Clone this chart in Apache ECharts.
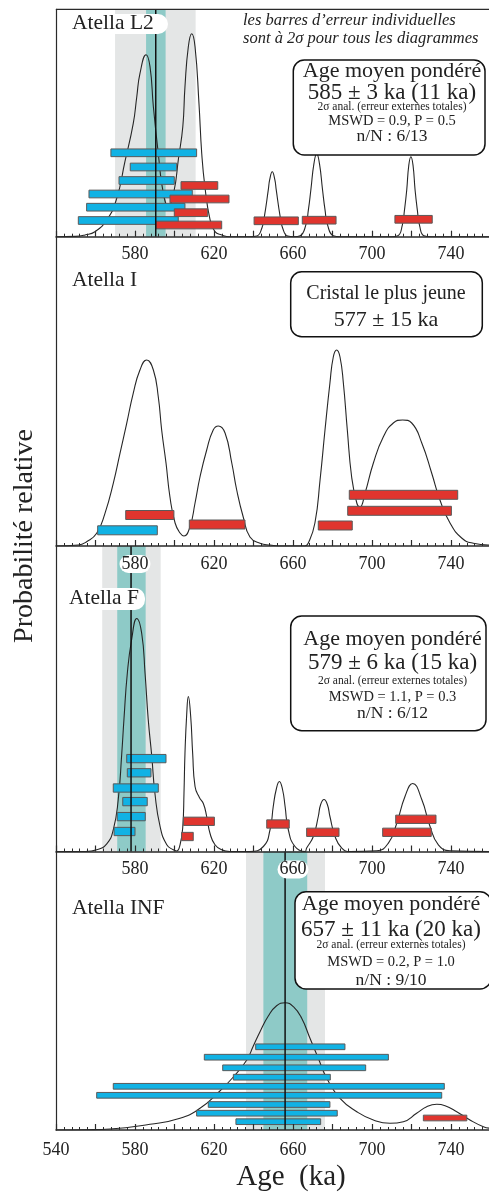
<!DOCTYPE html>
<html><head><meta charset="utf-8">
<script src="https://cdn.jsdelivr.net/npm/echarts@6/dist/echarts.min.js"></script>
<style>html,body{margin:0;padding:0;background:#fff}#c{width:489px;height:1193px}</style>
</head><body><div id="c"></div>
<script>
// ---------------- DATA ----------------
const axisMin = 540, axisMax = 760, tickStep = 20;
const tickLabelsUpper = [580, 620, 660, 700, 740];
const tickLabelsBottom = [540, 580, 620, 660, 700, 740];
const panelNames = ['Atella L2', 'Atella I', 'Atella F', 'Atella INF'];

// probability density curves [age ka, relative probability]
const curveL2 = [[540,0],[550,0.3],[554.7,1.7],[559.7,5],[565.7,16.7],[570.7,38],[574.9,75],[579.1,113],[580.9,140],[582.5,163],[585.6,182],[587.6,170],[589.3,130],[591.8,83],[594.2,45],[596.9,30],[599.7,45],[602,78],[604.2,110],[605.3,150],[607,190],[608.7,203],[610.4,190],[612.4,133],[613.8,83],[615.4,50],[618,17],[620.5,5],[623.9,1.7],[628,0],[638,0],[641.7,0.7],[644.3,9],[645.5,20],[647.5,47],[648.2,57],[649.5,65],[650.8,57],[651.5,47],[653.5,20],[654.7,9],[657.3,0.7],[660.5,0],[663.6,1],[666.4,11],[667.8,27],[669.05,47],[670.6,73],[672,83],[673.4,73],[674.95,47],[676.2,27],[677.6,11],[680.4,1],[684,0],[710,0],[713.1,0.9],[715.3,11],[716.4,26],[717.6,47],[718.6,71],[719.7,80],[720.8,71],[721.8,47],[723,26],[724.1,11],[726.3,0.9],[730,0],[760,0]];
const curveI = [[540,0],[551.3,1],[555.5,4.3],[560.6,12.7],[564.8,32.7],[569,62.7],[572.4,92.7],[575.8,122.7],[579.1,152.7],[582.5,176],[585.9,186],[589.3,176],[591.8,149],[593.5,116],[595.7,83],[597.7,49],[600.3,23],[602.8,13],[604.8,10],[607.8,19],[610.4,43],[612.9,69],[616.3,96],[619.6,116],[622.2,120],[625.6,113],[629,83],[631.5,56],[634.8,29],[638.2,9],[643.3,2.7],[648.4,1],[655,0],[666,0],[667.7,2.7],[671.1,23],[673.7,66],[676.2,116],[678.7,163],[680.4,189],[682.1,196],[683.8,189],[685.5,163],[687.5,116],[689.7,69],[692.3,43],[693.9,39],[696.5,53],[700.7,83],[705.7,109],[710.8,123],[715.5,126],[720.1,123],[725.2,103],[730.2,73],[734.4,46],[739.5,23],[745.4,8],[751.3,2.7],[758.9,1],[760,1]];
const curveF = [[540,0],[555,0],[560.6,1.7],[565.7,7.7],[569,21.7],[571.5,51.7],[573.3,98],[574.4,132],[576.1,178],[578.3,212],[580.9,233],[583.4,218],[585.1,178],[586.7,132],[588.5,95],[590.1,58],[592.7,25],[596.1,6.7],[599.4,1.7],[601.1,0.5],[602.8,6.7],[604.2,25],[604.8,58],[605.3,98],[606.2,138],[607,155],[608.2,135],[609.2,98],[610.4,65],[612.6,54],[614.6,48],[616.3,35],[618,18],[620.5,6.7],[623.9,1.7],[628,0],[638,0],[645,5],[648.4,22],[650,45],[651.5,62],[653.1,70],[654.7,62],[656,45],[657.6,22],[661,5],[666.1,0],[666.9,3.4],[670.3,15],[672.8,35],[674,47],[675.7,52],[677.4,47],[678.7,35],[681.3,15],[684.7,3.4],[688.9,0],[702.4,0.7],[708.3,8.4],[712.5,28],[716.7,55],[720.6,68],[725.2,52],[729.4,25],[733.6,6.7],[739.5,0.7],[760,0]];
const curveINF = [[540,0],[555,0.3],[567.3,1],[587.6,5.7],[602.8,11.7],[612.9,21.7],[621.4,36],[629.8,53],[636.6,70],[639.9,84],[643.3,98.3],[647.5,114],[651.7,124.3],[656,127.3],[660.2,123.3],[664.4,111.7],[668.6,91.7],[672.8,71.7],[677.1,51.7],[683.8,31.7],[692.3,18.3],[700.7,10],[709.1,6.7],[715.9,8.3],[722.6,16.7],[727.7,23.3],[732.8,25.7],[737,24.3],[742.9,18.3],[749.6,10],[756.4,3.3],[760,1.7]];

// individual 2-sigma error bars [low ka, high ka, stacking level, 0=selected(blue) 1=rejected(red)]
const barsL2 = [[567.8,611.2,83.9,0],[577.6,601.1,69.7,0],[571.9,599.9,56.2,0],[556.7,609,42.7,0],[555.5,605.3,29.5,0],[551.3,601.9,16.2,0],
  [603.3,621.9,51.2,1],[597.7,627.6,37.7,1],[599.9,616.8,24,1],[590.6,623.9,11.7,1],[640.3,662.7,15.9,1],[664.7,681.8,16.5,1],[711.6,730.5,17.4,1]];
const barsI = [[561.1,591.3,15.7,0],[575.3,599.7,31,1],[607.5,635.7,21.5,1],[672.8,690,20.5,1],[688.5,743.4,51.2,1],[687.7,740.2,35.2,1]];
const barsF = [[575.8,595.7,92.9,0],[576.1,588.1,78.7,0],[569,591.8,63.5,0],[573.8,586.2,49.9,0],[571,585.2,34.9,0],[569.4,580,20,0],
  [604.5,620.2,30.2,1],[603.6,609.5,15,1],[646.7,658.1,27.5,1],[666.9,683.3,19.2,1],[712,732.4,32.2,1],[705.4,730,19.2,1]];
const barsINF = [[641.1,686.3,83.2,0],[615.1,708.3,72.8,0],[624.4,696.8,62.2,0],[629.8,678.9,52.8,0],[569,736.6,43.7,0],[560.6,735.3,34.7,0],[617.1,678.7,25.5,0],[611.2,682.4,16.8,0],[631.1,674,8.3,0],[726,748,12,1]];

// weighted mean bands [external low, external high, analytical low, analytical high, mean]  (null = none)
const bandsL2 = [569.9, 610.7, 585.6, 595.5, 590.5];
const bandsI = null;
const bandsF = [563.4, 593, 571, 585.4, 578];
const bandsINF = [636.2, 676.2, 645, 667.2, 656];

const noteText = ["les barres d\u2019erreur individuelles", "sont à 2σ pour tous les diagrammes"];
const boxTexts = [
  ['Age moyen pondéré', '585 ± 3 ka (11 ka)', '2σ anal. (erreur externes totales)', 'MSWD = 0.9, P = 0.5', 'n/N : 6/13'],
  ['Cristal le plus jeune', '577 ± 15 ka'],
  ['Age moyen pondéré', '579 ± 6 ka (15 ka)', '2σ anal. (erreur externes totales)', 'MSWD = 1.1, P = 0.3', 'n/N : 6/12'],
  ['Age moyen pondéré', '657 ± 11 ka (20 ka)', '2σ anal. (erreur externes totales)', 'MSWD = 0.2, P = 1.0', 'n/N : 9/10']
];
const yTitle = 'Probabilité relative';
const xTitle = 'Age  (ka)';

// ---------------- LAYOUT / STYLE ----------------
const SERIF = '"Liberation Serif","Times New Roman",serif';
const COL_BLUE = '#11b2e4', COL_RED = '#e0352e', COL_GREY = '#e4e6e6', COL_TEAL = '#8ecac7';
const LEFT = 56, PW = 434.5;
const panels = [
  {top: 9.3, h: 227.4, curve: curveL2, bars: barsL2, bands: bandsL2, barH: 7.7, labels: tickLabelsUpper, margin: 9},
  {top: 236.7, h: 309.3, curve: curveI, bars: barsI, bands: bandsI, barH: 9, labels: tickLabelsUpper, margin: 9},
  {top: 546, h: 305.5, curve: curveF, bars: barsF, bands: bandsF, barH: 8.3, labels: tickLabelsUpper, margin: 9},
  {top: 851.5, h: 278.5, curve: curveINF, bars: barsINF, bands: bandsINF, barH: 5.7, labels: tickLabelsBottom, margin: 11}
];

const grids = [], xAxes = [], yAxes = [], series = [];
panels.forEach((p, i) => {
  grids.push({left: LEFT, width: PW, top: p.top, height: p.h, outerBoundsMode: 'none', containLabel: false});
  xAxes.push({
    type: 'value', gridIndex: i, min: axisMin, max: axisMax, interval: tickStep, z: 6,
    axisLine: {show: true, lineStyle: {color: '#2a2a2a', width: 1.5}},
    axisTick: {show: true, inside: true, length: 6, lineStyle: {color: '#2a2a2a', width: 1.2}},
    minorTick: {show: true, splitNumber: 5, length: 3, lineStyle: {color: '#2a2a2a', width: 1}},
    splitLine: {show: false}, minorSplitLine: {show: false},
    axisLabel: {
      show: true, margin: p.margin, fontFamily: SERIF, fontSize: 18, color: '#222',
      backgroundColor: '#fff', borderRadius: 9, padding: [0, 2, 0, 2],
      showMinLabel: true, showMaxLabel: false, hideOverlap: false,
      formatter: (v) => p.labels.indexOf(v) >= 0 ? String(v) : ''
    }
  });
  yAxes.push({
    type: 'value', gridIndex: i, min: 0, max: p.h,
    axisLine: {show: true, lineStyle: {color: '#2a2a2a', width: 1.2}},
    axisTick: {show: false}, axisLabel: {show: false}, splitLine: {show: false}
  });
  if (p.bands) {
    const b = p.bands;
    series.push({
      type: 'custom', xAxisIndex: i, yAxisIndex: i, z: 1, silent: true,
      data: [[b[0], b[1], 0], [b[2], b[3], 1]],
      encode: {x: [0, 1]},
      renderItem: (params, api) => {
        const a = api.coord([api.value(0), p.h]);
        const c = api.coord([api.value(1), 0]);
        return {type: 'rect', shape: {x: a[0], y: a[1], width: c[0] - a[0], height: c[1] - a[1]},
          style: {fill: api.value(2) ? COL_TEAL : COL_GREY}};
      }
    });
    series.push({
      type: 'custom', xAxisIndex: i, yAxisIndex: i, z: 5, silent: true,
      data: [[b[4]]], encode: {x: 0},
      renderItem: (params, api) => {
        const a = api.coord([api.value(0), p.h]);
        const c = api.coord([api.value(0), 0]);
        return {type: 'line', shape: {x1: a[0], y1: a[1], x2: c[0], y2: c[1]},
          style: {stroke: '#111', lineWidth: 1.5}};
      }
    });
  }
  series.push({
    type: 'line', xAxisIndex: i, yAxisIndex: i, z: 3, data: p.curve, showSymbol: false, symbol: 'none',
    smooth: 0.5, clip: true, silent: true,
    lineStyle: {color: '#262626', width: 1.1}
  });
  series.push({
    type: 'custom', xAxisIndex: i, yAxisIndex: i, z: 4, silent: true,
    data: p.bars, encode: {x: [0, 1], y: 2},
    renderItem: (params, api) => {
      const a = api.coord([api.value(0), api.value(2)]);
      const c = api.coord([api.value(1), api.value(2)]);
      return {type: 'rect', shape: {x: a[0], y: a[1] - p.barH / 2, width: c[0] - a[0], height: p.barH},
        style: {fill: api.value(3) ? COL_RED : COL_BLUE, stroke: '#5a5a5a', lineWidth: 1}};
    }
  });
});

// graphic overlays
const G = [];
function txt(s, x, y, size, opt) {
  opt = opt || {};
  G.push({type: 'text', z: 100, x: x, y: y, rotation: opt.rot || 0,
    style: {text: s, font: (opt.italic ? 'italic ' : '') + size + 'px ' + SERIF, fill: opt.fill || '#222',
      textAlign: opt.align || 'left', align: opt.align || 'left', textVerticalAlign: 'middle', verticalAlign: 'middle'}});
}
function box(x, y, w, h) {
  G.push({type: 'rect', z: 99, shape: {x: x, y: y, width: w, height: h, r: 11},
    style: {fill: '#fff', stroke: '#111', lineWidth: 1.5}});
}
G.push({type: 'line', z: 100, shape: {x1: LEFT, y1: 9.3, x2: 489, y2: 9.3}, style: {stroke: '#2a2a2a', lineWidth: 1.2}});
// panel names
G.push({type: 'rect', z: 99, shape: {x: 69, y: 14, width: 99, height: 20, r: 10}, style: {fill: '#fff'}});
G.push({type: 'rect', z: 99, shape: {x: 66, y: 588, width: 79, height: 22, r: 10}, style: {fill: '#fff'}});
txt(panelNames[0], 72, 23, 21.5);
txt(panelNames[1], 72, 280, 21.5);
txt(panelNames[2], 69, 598, 21.5);
txt(panelNames[3], 72, 908, 21.5);
// note
txt(noteText[0], 243, 20.5, 16.5, {italic: true});
txt(noteText[1], 243, 39, 16.5, {italic: true});
// boxes
const boxLayouts = [
  {r: [293.3, 60, 191.7, 95], cx: 392, ys: [71, 92.5, 107.3, 120.7, 136.5]},
  {r: [290.7, 271.7, 191.6, 65], cx: 386, ys: [293.5, 320]},
  {r: [290.7, 616, 195.3, 114.7], cx: 392.5, ys: [639.5, 663, 680.7, 696.7, 713]},
  {r: [295, 891.7, 196, 97.3], cx: 391, ys: [904.5, 929.5, 945, 962.3, 980]}
];
const boxSizes5 = [22, 23, 11.5, 14.5, 17.5];
const boxSizes2 = [20, 22];
boxLayouts.forEach((b, i) => {
  box(b.r[0], b.r[1], b.r[2], b.r[3]);
  const sizes = boxTexts[i].length === 2 ? boxSizes2 : boxSizes5;
  boxTexts[i].forEach((s, k) => txt(s, b.cx, b.ys[k], sizes[k], {align: 'center'}));
});
txt(yTitle, 25, 536, 28, {align: 'center', rot: Math.PI / 2});
txt(xTitle, 291, 1177, 29, {align: 'center'});

const chart = echarts.init(document.getElementById('c'), null, {renderer: 'canvas'});
chart.setOption({
  animation: false,
  backgroundColor: '#fff',
  grid: grids, xAxis: xAxes, yAxis: yAxes, series: series,
  graphic: {elements: G}
});
</script>
</body></html>
